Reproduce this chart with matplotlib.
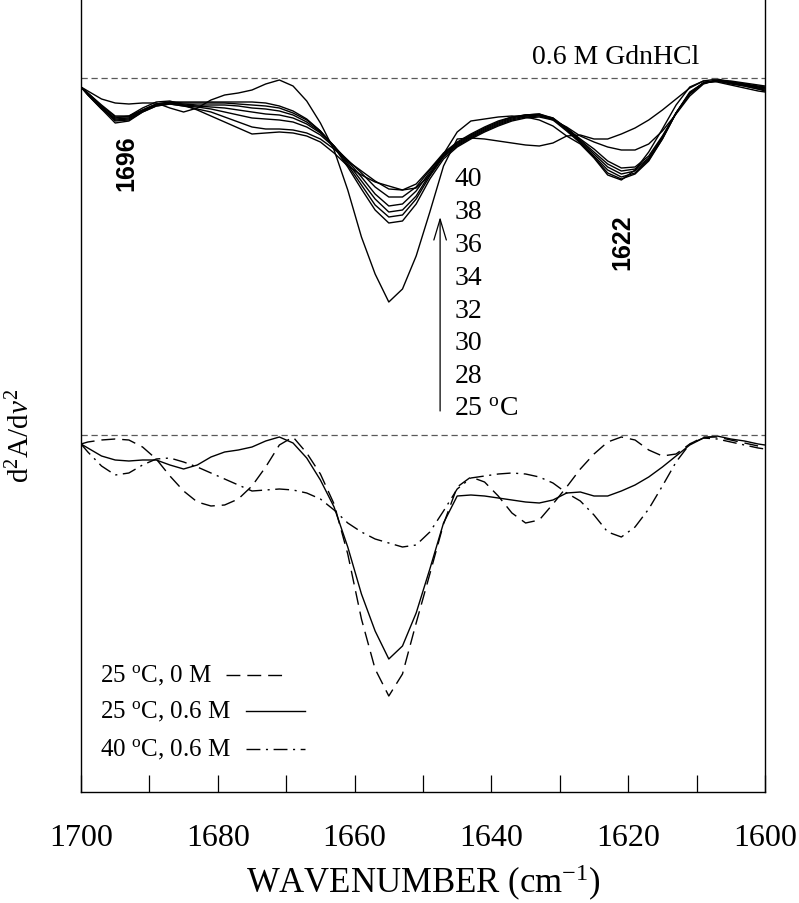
import numpy as np
import matplotlib
matplotlib.use('Agg')
import matplotlib.pyplot as plt

plt.rcParams['font.family'] = ['Liberation Serif', 'DejaVu Serif']
plt.rcParams['mathtext.fontset'] = 'custom'
plt.rcParams['mathtext.rm'] = 'Liberation Serif'
plt.rcParams['mathtext.it'] = 'Liberation Serif:italic'

# wavenumber grid (cm-1), high to low
wn = np.r_[1700, np.arange(1699, 1600, -2), 1600]

# second-derivative amplitudes (a.u., zero = reference line of each set)
# 25 C, 0.6 M GdnHCl (also the bottom trace of the temperature series)
t25 = [-0.09, -0.13, -0.21, -0.25, -0.26, -0.25, -0.25, -0.30, -0.34, -0.30, -0.22, -0.17, -0.15, -0.12, -0.06, -0.02,
       -0.08, -0.23, -0.45, -0.72, -1.12, -1.59, -1.96, -2.24, -2.11, -1.78, -1.34, -0.88, -0.61, -0.60,
       -0.61, -0.63, -0.65, -0.67, -0.68, -0.65, -0.58, -0.57, -0.61, -0.61, -0.56, -0.50, -0.42, -0.32, -0.21,
       -0.10, -0.03, -0.01, -0.04, -0.06, -0.09, -0.10]
t28 = [-0.09, -0.15, -0.27, -0.38, -0.38, -0.32, -0.26, -0.24, -0.24, -0.24, -0.24, -0.24, -0.24, -0.24, -0.25, -0.28,
       -0.33, -0.41, -0.53, -0.69, -0.89, -1.11, -1.32, -1.45, -1.43, -1.26, -1.01, -0.81, -0.69, -0.61,
       -0.54, -0.48, -0.43, -0.40, -0.39, -0.42, -0.49, -0.58, -0.64, -0.69, -0.72, -0.72, -0.66, -0.53, -0.36,
       -0.18, -0.06, -0.02, -0.03, -0.05, -0.07, -0.08]
t30 = [-0.09, -0.15, -0.28, -0.39, -0.39, -0.32, -0.26, -0.24, -0.25, -0.25, -0.25, -0.25, -0.26, -0.27, -0.28, -0.30,
       -0.35, -0.42, -0.53, -0.68, -0.87, -1.07, -1.27, -1.39, -1.37, -1.21, -0.98, -0.79, -0.68, -0.60,
       -0.53, -0.47, -0.42, -0.39, -0.38, -0.41, -0.50, -0.61, -0.71, -0.83, -0.90, -0.89, -0.78, -0.58, -0.35,
       -0.16, -0.05, -0.02, -0.04, -0.06, -0.08, -0.09]
t32 = [-0.09, -0.16, -0.29, -0.41, -0.40, -0.33, -0.27, -0.25, -0.26, -0.27, -0.27, -0.27, -0.28, -0.30, -0.31, -0.33,
       -0.37, -0.44, -0.54, -0.68, -0.85, -1.03, -1.21, -1.34, -1.32, -1.18, -0.96, -0.78, -0.67, -0.59,
       -0.52, -0.46, -0.41, -0.38, -0.37, -0.40, -0.50, -0.62, -0.74, -0.86, -0.93, -0.91, -0.80, -0.59, -0.35,
       -0.16, -0.05, -0.02, -0.04, -0.07, -0.09, -0.10]
t34 = [-0.09, -0.16, -0.29, -0.42, -0.41, -0.33, -0.27, -0.25, -0.27, -0.28, -0.29, -0.30, -0.32, -0.34, -0.36, -0.37,
       -0.40, -0.46, -0.55, -0.68, -0.83, -0.99, -1.16, -1.28, -1.26, -1.13, -0.94, -0.77, -0.66, -0.58,
       -0.51, -0.45, -0.40, -0.37, -0.36, -0.40, -0.51, -0.63, -0.76, -0.89, -0.96, -0.93, -0.81, -0.60, -0.35,
       -0.15, -0.05, -0.03, -0.05, -0.07, -0.10, -0.11]
t36 = [-0.09, -0.16, -0.30, -0.43, -0.42, -0.34, -0.28, -0.26, -0.28, -0.29, -0.31, -0.34, -0.37, -0.40, -0.41, -0.42,
       -0.44, -0.49, -0.57, -0.69, -0.82, -0.95, -1.09, -1.19, -1.19, -1.09, -0.92, -0.76, -0.65, -0.57,
       -0.50, -0.44, -0.39, -0.37, -0.36, -0.41, -0.52, -0.64, -0.78, -0.92, -0.99, -0.95, -0.82, -0.61, -0.35,
       -0.15, -0.05, -0.03, -0.05, -0.08, -0.11, -0.12]
t38 = [-0.09, -0.17, -0.31, -0.45, -0.43, -0.34, -0.28, -0.26, -0.28, -0.31, -0.34, -0.39, -0.44, -0.49, -0.51, -0.51,
       -0.52, -0.55, -0.61, -0.71, -0.83, -0.93, -1.03, -1.11, -1.12, -1.06, -0.91, -0.75, -0.64, -0.56,
       -0.49, -0.43, -0.39, -0.37, -0.37, -0.42, -0.53, -0.65, -0.79, -0.95, -1.01, -0.96, -0.83, -0.61, -0.35,
       -0.14, -0.05, -0.03, -0.06, -0.08, -0.11, -0.13]
# 40 C, 0.6 M GdnHCl (top trace of the series, dash-dot below)
t40 = [-0.09, -0.17, -0.31, -0.40, -0.38, -0.30, -0.24, -0.23, -0.27, -0.32, -0.38, -0.44, -0.50, -0.56, -0.55, -0.54,
       -0.55, -0.58, -0.64, -0.75, -0.88, -0.97, -1.04, -1.08, -1.12, -1.10, -0.97, -0.76, -0.54, -0.43,
       -0.41, -0.39, -0.38, -0.39, -0.42, -0.48, -0.58, -0.66, -0.80, -0.97, -1.02, -0.92, -0.74, -0.51, -0.27,
       -0.09, -0.03, -0.04, -0.07, -0.10, -0.13, -0.14]
# 25 C, no denaturant
t25_0M = [-0.09, -0.07, -0.05, -0.04, -0.05, -0.12, -0.24, -0.41, -0.56, -0.67, -0.71, -0.70, -0.64, -0.51, -0.32, -0.10,
          -0.02, -0.18, -0.39, -0.69, -1.19, -1.84, -2.34, -2.61, -2.39, -1.88, -1.39, -0.89, -0.52, -0.42,
          -0.47, -0.61, -0.78, -0.88, -0.85, -0.69, -0.52, -0.34, -0.19, -0.07, -0.02, -0.05, -0.15, -0.21, -0.19,
          -0.09, -0.02, -0.02, -0.05, -0.08, -0.11, -0.12]

series = [t25, t28, t30, t32, t34, t36, t38, t40]
temps = ['40', '38', '36', '34', '32', '30', '28', r'25 $^{\rm o}$C']
key_labels = [r'25 $^{\rm o}$C, 0 M', r'25 $^{\rm o}$C, 0.6 M', r'40 $^{\rm o}$C, 0.6 M']

upper0 = 7.14   # baseline of the temperature series
lower0 = 3.57   # baseline of the comparison set

fig = plt.figure(figsize=(7.99, 9.04), dpi=100)
ax = fig.add_axes([81/799, 111/904, 684/799, 793/904])

for s in series:
    ax.plot(wn, upper0 + np.array(s), color='k', lw=1.0)

styles = [dict(dashes=(10, 5)), dict(), dict(dashes=(10, 4, 1.5, 4))]
for s, st in zip([t25_0M, t25, t40], styles):
    ax.plot(wn, lower0 + np.array(s), color='k', lw=1.0, **st)

for b in (upper0, lower0):
    ax.axhline(b, color='0.35', lw=0.9, dashes=(5, 3))

ax.text(1621.8, 7.36, '0.6 M GdnHCl', ha='center', va='center', fontsize=20)

# temperature ladder with arrow
for i, t in enumerate(temps):
    ax.text(1645.4, 6.13 - i*0.328, t, ha='left', va='center', fontsize=20)
ax.annotate('', xy=(1647.5, 5.75), xytext=(1647.5, 3.81),
            arrowprops=dict(arrowstyle='->,head_length=1.5,head_width=0.45',
                            lw=0.9, color='k', shrinkA=0, shrinkB=0))

ax.text(1693.3, 6.30, '1696', rotation=90, ha='center', va='center',
        fontsize=18, fontweight='bold', family='Liberation Sans')
ax.text(1620.9, 5.51, '1622', rotation=90, ha='center', va='center',
        fontsize=18, fontweight='bold', family='Liberation Sans')

# line key, text first and a short line sample after it
key_y = [0.1475, 0.102, 0.054]
key_x = [(0.212, 0.295), (0.241, 0.327), (0.241, 0.327)]
for lab, y, (x0, x1), st in zip(key_labels, key_y, key_x, styles):
    ax.text(0.028, y, lab, transform=ax.transAxes, ha='left', va='center', fontsize=18)
    ax.plot([x0, x1], [y, y], transform=ax.transAxes, color='k', lw=1.0, **st)

ax.set_xlim(1700, 1600)
ax.set_ylim(0, 7.93)
ax.set_xticks(np.arange(1700, 1599, -20))
ax.set_xticks(np.arange(1690, 1600, -20), minor=True)
ax.tick_params(axis='x', which='both', direction='in', length=12, width=0.9, top=False)
ax.tick_params(axis='x', which='major', labelsize=23, pad=22)
ax.set_yticks([])
ax.spines['top'].set_visible(False)
for sp in ('left', 'right', 'bottom'):
    ax.spines[sp].set_linewidth(1.0)

ax.set_xlabel('WAVENUMBER (cm$^{-1}$)', fontsize=25, va='center')
ax.xaxis.set_label_coords(0.5, -0.113)
ax.set_ylabel(r'd$^{2}$A/d$\nu^{2}$', fontsize=21)
ax.yaxis.set_label_coords(-0.067, 0.45)

fig.savefig('out.png', dpi=100)
